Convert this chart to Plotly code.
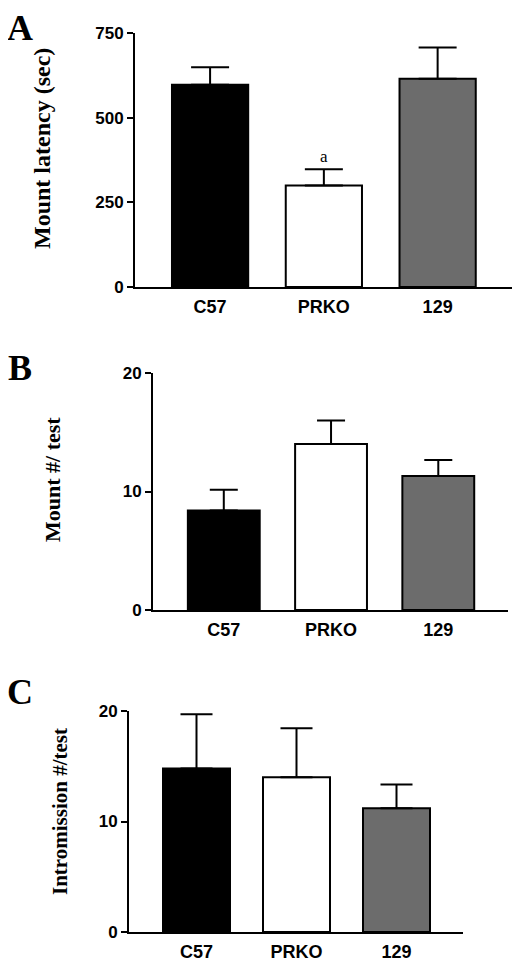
import plotly.graph_objects as go

groups = ['C57', 'PRKO', '129']
bar_colors = ['black', 'white', 'rgb(108,108,108)']

latency = [597, 300, 615]
latency_err = [52, 48, 92]

mounts = [8.4, 14.0, 11.3]
mounts_err = [1.75, 2.0, 1.35]

intromissions = [14.8, 14.0, 11.2]
intromissions_err = [4.9, 4.45, 2.15]

# page body keeps its default 8px margin, so the figure is drawn 8px smaller
OFF = 8
W, H = 520 - OFF, 961 - OFF


def bar_trace(values, errors, xaxis, yaxis, cap):
    return go.Bar(x=groups, y=values, xaxis=xaxis, yaxis=yaxis, width=0.67,
                  marker=dict(color=bar_colors, line=dict(color='black', width=2)),
                  error_y=dict(type='data', array=errors, arrayminus=[0] * len(errors), symmetric=False,
                               color='black', thickness=2, width=cap),
                  showlegend=False)


def px(a):
    return (a - OFF) / W


def py(b):
    return 1 - (b - OFF) / H


fig = go.Figure()
fig.add_traces([
    bar_trace(latency, latency_err, 'x', 'y', 19),
    bar_trace(mounts, mounts_err, 'x2', 'y2', 14),
    bar_trace(intromissions, intromissions_err, 'x3', 'y3', 16),
])

tick_font = dict(family='Liberation Sans, Arial', size=17, color='black', weight='bold')
xtick_font = dict(family='Liberation Sans, Arial', size=18, color='black', weight='bold')
title_font = dict(family='Liberation Serif, Times New Roman', size=22, color='black', weight='bold')

xcommon = dict(showline=True, linecolor='black', linewidth=2, ticks='', showgrid=False, zeroline=False,
               tickfont=xtick_font, ticklabelstandoff=2, fixedrange=True, automargin=False)
ycommon = dict(showline=True, linecolor='black', linewidth=2, ticks='outside', ticklen=6, tickwidth=2,
               tickcolor='black', showgrid=False, zeroline=False, tickfont=tick_font, fixedrange=True,
               automargin=False)

fig.update_layout(
    width=W, height=H,
    margin=dict(l=0, r=0, t=0, b=0),
    plot_bgcolor='white', paper_bgcolor='white',
    xaxis=dict(xcommon, domain=[px(135), px(515)], range=[-0.66, 2.68], anchor='y'),
    yaxis=dict(ycommon, domain=[py(287), py(33)], range=[0, 750], tickvals=[0, 250, 500, 750], anchor='x'),
    xaxis2=dict(xcommon, domain=[px(153), px(508)], range=[-0.66, 2.65], anchor='y2'),
    yaxis2=dict(ycommon, domain=[py(610), py(373)], range=[0, 20], tickvals=[0, 10, 20], anchor='x2'),
    xaxis3=dict(xcommon, domain=[px(129), px(463)], range=[-0.675, 2.665], anchor='y3'),
    yaxis3=dict(ycommon, domain=[py(932), py(711)], range=[0, 20], tickvals=[0, 10, 20], anchor='x3'),
)

# y titles sit a little above the axis middle, as in the source figure
for text, xc, yc, size in [('Mount latency (sec)', 42, 149, 24),
                           ('Mount #/ test', 52, 480, 22),
                           ('Intromission #/test', 60, 812, 21)]:
    fig.add_annotation(text=text, xref='paper', yref='paper', x=px(xc), y=py(yc), textangle=-90,
                       showarrow=False, xanchor='center', yanchor='middle', font=dict(title_font, size=size))

letter_font = dict(family='Liberation Serif, Times New Roman', size=36, color='black', weight='bold')
for letter, ypix in [('A', 28), ('B', 368), ('C', 692)]:
    fig.add_annotation(text=letter, xref='paper', yref='paper', x=px(20), y=py(ypix),
                       showarrow=False, font=letter_font, xanchor='center', yanchor='middle')

# significance mark above PRKO
fig.add_annotation(text='a', xref='x', yref='y', x='PRKO', y=latency[1] + latency_err[1],
                   showarrow=False, yanchor='bottom', yshift=1,
                   font=dict(family='Liberation Serif, Times New Roman', size=17, color='black'))

fig.write_html("out.html")
